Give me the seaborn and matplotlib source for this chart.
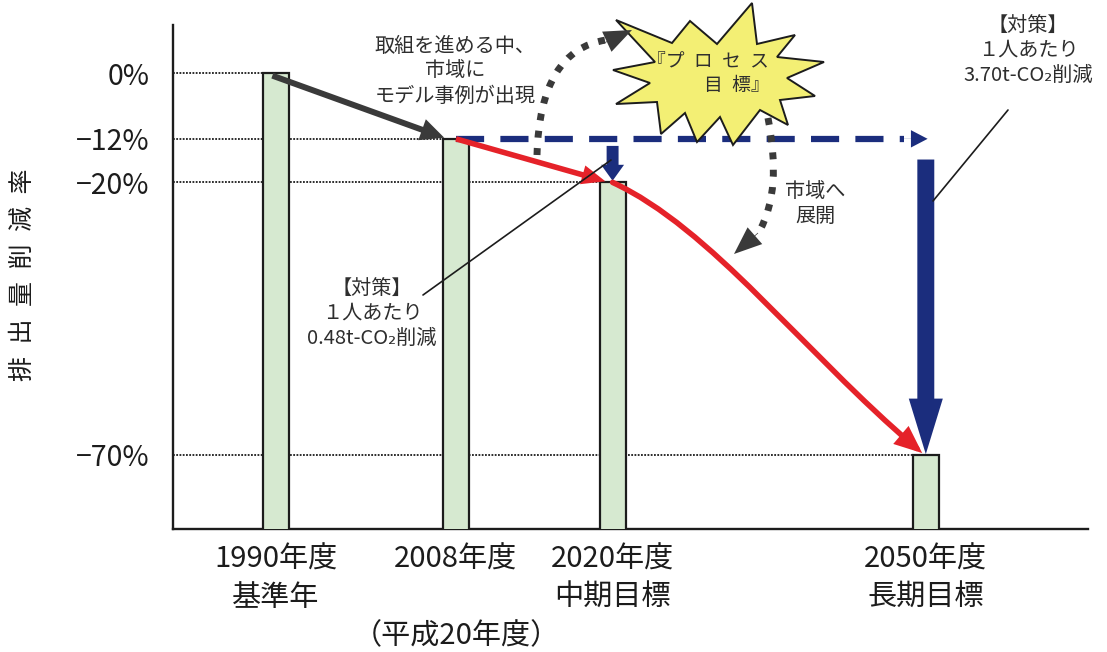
import numpy as np
import pandas as pd
import matplotlib
matplotlib.use("Agg")
import matplotlib.pyplot as plt
import seaborn as sns
from matplotlib.patches import FancyArrowPatch, Polygon
from matplotlib.lines import Line2D
from matplotlib.path import Path

# ------------------------------------------------------------------ data
tick_labels = ["1990年度\n基準年", "2008年度\n\n（平成20年度）",
               "2020年度\n中期目標", "2050年度\n長期目標"]
reduction_pct = [0, -12, -20, -70]          # emissions change vs FY1990 (%)
reduction_labels = ["0%", "−12%", "−20%", "−70%"]
status_quo_pct = -12                         # level held without new measures
measure_notes = ["【対策】\n１人あたり\n0.48t-CO₂削減",
                 "【対策】\n１人あたり\n3.70t-CO₂削減"]
process_note = "取組を進める中、\n市域に\nモデル事例が出現"
spread_note = "市域へ\n展開"
process_goal = ["『プ\u2002ロ\u2002セ\u2002ス", "目\u2002標』"]
axis_title = "排\u2002出\u2002量\u2002削\u2002減\u2002率"

# ---------------------------------------------------------------- layout
W, H = 1107, 652
bar_pos = [0.0, 1.0, 1.87, 3.61]     # horizontal slot of each fiscal year
bar_width = 0.145
x_range = (-0.572, 4.511)
levels = [100 + r for r in reduction_pct]   # remaining emissions, FY1990 = 100
status_quo = 100 + status_quo_pct
y_range = (16.36, 108.9)

INK = "#1c1c1c"
TXT = "#2e2e2e"
GREY = "#3a3a3a"
NAVY = "#1b2d7d"
RED = "#e52229"
BAR = "#d6e9d0"
STAR = "#f3ef74"


def fxy(x, y):
    """Pixel position (origin at top-left) -> figure fraction."""
    return (x / W, 1 - y / H)


sns.set_theme(style="white")
plt.rcParams["font.family"] = ["Noto Sans CJK JP", "DejaVu Sans"]

fig = plt.figure(figsize=(W / 100, H / 100), dpi=100)
fig.patch.set_facecolor("white")
ax = fig.add_axes([173 / W, 1 - 529 / H, 915 / W, 504 / H])

# dotted guides from the axis to each bar
ax.hlines(levels, x_range[0], bar_pos, colors=INK, linewidth=1.3,
          linestyles=(0, (1, 0.8)), zorder=1)

df = pd.DataFrame({"pos": bar_pos, "level": levels})
sns.barplot(data=df, x="pos", y="level", orient="x", native_scale=True,
            width=bar_width / np.min(np.diff(bar_pos)), color=BAR,
            saturation=1, edgecolor=INK, linewidth=1.6, errorbar=None, ax=ax)
for p in ax.patches:
    p.set_zorder(3)

ax.set_xlim(*x_range)
ax.set_ylim(*y_range)

# axes styling
for side in ("top", "right"):
    ax.spines[side].set_visible(False)
for side in ("left", "bottom"):
    ax.spines[side].set_color(INK)
    ax.spines[side].set_linewidth(1.7)

ax.set_yticks(levels, reduction_labels)
ax.tick_params(axis="y", length=0, pad=17, labelsize=20.5, labelcolor=INK)
ax.set_xticks(bar_pos, tick_labels)
ax.tick_params(axis="x", length=0, pad=11, labelsize=21, labelcolor=INK)
for t in ax.get_xticklabels():
    t.set_linespacing(1.36)
ax.set_xlabel("")
ax.set_ylabel(axis_title, fontsize=18, rotation=90, va="center", color=INK)
ax.yaxis.set_label_coords(-0.164, 0.504)


def block_arrow(start, end, color, tail, head_w, head_l, z=5, **kw):
    style = f"simple,head_length={head_l},head_width={head_w},tail_width={tail}"
    arr = FancyArrowPatch(start, end, arrowstyle=style, mutation_scale=1,
                          shrinkA=0, shrinkB=0, facecolor=color,
                          edgecolor="none", linewidth=0, zorder=z, **kw)
    return arr


# 1990 -> 2008 actual trend
ax.add_patch(block_arrow((bar_pos[0] - 0.02, levels[0] - 0.4),
                         (bar_pos[1] - 0.065, levels[1] + 0.2),
                         GREY, 4.3, 16, 17))

# status-quo line from 2008 onwards
dash_end = bar_pos[3] - bar_width / 2 - 0.05
ax.plot([bar_pos[1], dash_end], [status_quo, status_quo], color=NAVY,
        linewidth=4.5, linestyle=(0, (4.5, 2.6)), dash_capstyle="butt",
        zorder=4)
ax.add_patch(block_arrow((dash_end, status_quo), (bar_pos[3] + 0.01, status_quo),
                         NAVY, 0.1, 12.5, 12))

# measures needed for 2020 and 2050
ax.add_patch(block_arrow((bar_pos[2], status_quo - 1.3),
                         (bar_pos[2], levels[2] + 0.3), NAVY, 8.6, 16.5, 11.5))
ax.add_patch(block_arrow((bar_pos[3], status_quo - 3.8),
                         (bar_pos[3], levels[3] + 0.1), NAVY, 12.2, 24.5, 40))

# reduction pathway 2008 -> 2020 -> 2050
ax.add_patch(block_arrow((bar_pos[1], levels[1]),
                         (bar_pos[2] - 0.04, levels[2] + 0.2), RED, 4, 14, 17, z=6))
p0 = np.array([bar_pos[2], levels[2]])
p3 = np.array([bar_pos[3] - 0.02, levels[3] + 0.3])
d = p3 - p0
p1 = p0 + d * np.array([0.32, 0.17])
p2 = p0 + d * np.array([0.61, 0.62])
curve = Path([p0, p1, p2, p3], [Path.MOVETO, Path.CURVE4, Path.CURVE4, Path.CURVE4])
ax.add_patch(FancyArrowPatch(path=curve, arrowstyle="-|>,head_length=13,head_width=5.5",
                             mutation_scale=1, color=RED, linewidth=4,
                             joinstyle="miter", zorder=6))

# "process goal" starburst
star_px = [(616, 20), (672, 43), (690, 21), (717, 44), (752, 3), (757, 44),
           (795, 35), (777, 57), (824, 62), (787, 78), (815, 96), (780, 100),
           (788, 125), (760, 110), (733, 145), (720, 117), (697, 142), (685, 113),
           (661, 134), (657, 102), (616, 104), (650, 83), (613, 70), (655, 62)]
fig.add_artist(Polygon([fxy(*v) for v in star_px], closed=True,
                       transform=fig.transFigure, facecolor=STAR,
                       edgecolor=INK, linewidth=1.4, zorder=7))
fig.text(*fxy(769, 62), process_goal[0], ha="right", va="center",
         fontsize=13.5, color=TXT, zorder=8)
fig.text(*fxy(770, 86), process_goal[1], ha="right", va="center",
         fontsize=13.5, color=TXT, zorder=8)

# dotted loop: model cases -> process goal -> spread across the city
dot_style = dict(arrowstyle="-", transform=fig.transFigure, color=GREY,
                 linewidth=5, linestyle=(0, (1, 1.5)), capstyle="butt", zorder=8)
loop_up = Path([fxy(537, 155), fxy(540, 50), fxy(606, 40)],
               [Path.MOVETO, Path.CURVE3, Path.CURVE3])
fig.add_artist(FancyArrowPatch(path=loop_up, **dot_style))
fig.add_artist(block_arrow(fxy(604, 43), fxy(632, 30), GREY, 0.5, 16, 20,
                           z=8, transform=fig.transFigure))
loop_down = Path([fxy(768, 118), fxy(782, 190), fxy(760, 230)],
                 [Path.MOVETO, Path.CURVE3, Path.CURVE3])
fig.add_artist(FancyArrowPatch(path=loop_down, **dot_style))
fig.add_artist(block_arrow(fxy(758, 233), fxy(734, 254), GREY, 0.5, 16, 20,
                           z=8, transform=fig.transFigure))

# notes
note_kw = dict(ha="center", va="center", fontsize=14.5, color=TXT,
               linespacing=1.25, zorder=9)
fig.text(*fxy(455, 71), process_note, **note_kw)
fig.text(*fxy(815, 204), spread_note, **note_kw)
fig.text(*fxy(372, 313), measure_notes[0], **note_kw)
fig.text(*fxy(1028, 50), measure_notes[1], **note_kw)

# leader lines from the measure notes to their arrows
for (x0, y0), (x1, y1) in [((423, 295), (611, 160)), ((1008, 110), (933, 201))]:
    a, b = fxy(x0, y0), fxy(x1, y1)
    fig.add_artist(Line2D([a[0], b[0]], [a[1], b[1]], transform=fig.transFigure,
                          color=INK, linewidth=1.2, zorder=7))

fig.savefig("out.png", dpi=100, facecolor="white")
